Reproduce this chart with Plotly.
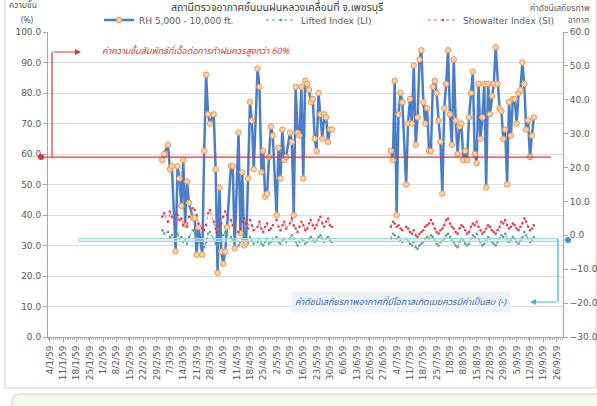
import plotly.graph_objects as go

# ---------------- data ----------------
tick_labels = ["4/1/59", "11/1/59", "18/1/59", "25/1/59", "1/2/59", "8/2/59", "15/2/59",
               "22/2/59", "29/2/59", "7/3/59", "14/3/59", "21/3/59", "28/3/59", "4/4/59",
               "11/4/59", "18/4/59", "25/4/59", "2/5/59", "9/5/59", "16/5/59", "23/5/59",
               "30/5/59", "6/6/59", "13/6/59", "20/6/59", "27/6/59", "4/7/59", "11/7/59",
               "18/7/59", "25/7/59", "1/8/59", "8/8/59", "15/8/59", "22/8/59", "29/8/59",
               "5/9/59", "12/9/59", "19/9/59", "26/9/59"]

dates_seg1 = ["03-03", "03-04", "03-06", "03-07", "03-08", "03-10", "03-11", "03-12", "03-13", "03-14",
              "03-15", "03-16", "03-17", "03-19", "03-20", "03-21", "03-22", "03-24", "03-25", "03-26",
              "03-27", "03-28", "03-30", "03-31", "04-01", "04-02", "04-03", "04-04", "04-05", "04-06",
              "04-08", "04-09", "04-10", "04-12", "04-13", "04-14", "04-15", "04-16", "04-17", "04-18",
              "04-19", "04-20", "04-22", "04-23", "04-24", "04-25", "04-26", "04-27", "04-28", "04-29",
              "04-30", "05-02", "05-03", "05-04", "05-05", "05-06", "05-07", "05-09", "05-10", "05-11",
              "05-12", "05-13", "05-14", "05-15", "05-16", "05-17", "05-18", "05-19", "05-20", "05-21",
              "05-22", "05-23", "05-24", "05-25", "05-26", "05-27", "05-28", "05-29", "05-30", "05-31"]
dates_gap = ["06-15"]
dates_seg2 = ["07-01", "07-02", "07-03", "07-04", "07-05", "07-06", "07-07", "07-09", "07-10", "07-11",
              "07-12", "07-13", "07-14", "07-15", "07-16", "07-17", "07-18", "07-19", "07-20", "07-21",
              "07-22", "07-23", "07-24", "07-25", "07-26", "07-27", "07-28", "07-29", "07-30", "07-31",
              "08-01", "08-02", "08-03", "08-04", "08-05", "08-06", "08-07", "08-08", "08-09", "08-10",
              "08-11", "08-12", "08-13", "08-14", "08-15", "08-16", "08-17", "08-18", "08-19", "08-20",
              "08-21", "08-22", "08-23", "08-24", "08-25", "08-26", "08-27", "08-28", "08-29", "08-30",
              "08-31", "09-01", "09-02", "09-03", "09-04", "09-05", "09-06", "09-07", "09-08", "09-09",
              "09-10", "09-11", "09-12", "09-13", "09-14"]

rh_seg1 = [58, 60, 63, 55, 56, 28, 56, 52, 43, 58,
           37, 51, 44, 39, 39, 27, 36, 27, 61, 86,
           73, 70, 73, 55, 21, 49, 28, 24, 28, 36,
           56, 56, 29, 67, 34, 54, 30, 31, 52, 77,
           71, 55, 88, 82, 54, 61, 46, 47, 59, 69,
           66, 40, 62, 52, 68, 58, 59, 67, 64, 40,
           82, 67, 66, 82, 52, 84, 83, 81, 77, 78,
           65, 61, 80, 73, 65, 73, 72, 64, 68, 68]
rh_seg2 = [61, 58, 84, 40, 73, 80, 77, 50, 70, 78,
           70, 89, 63, 72, 91, 94, 77, 70, 75, 61,
           61, 82, 84, 80, 71, 64, 47, 75, 83, 94,
           73, 63, 91, 71, 60, 69, 70, 58, 61, 58,
           72, 80, 87, 60, 57, 83, 65, 72, 83, 49,
           83, 73, 79, 83, 95, 83, 75, 74, 65, 68,
           50, 77, 66, 78, 78, 70, 80, 81, 90, 83,
           68, 71, 59, 66, 72]

si_seg1 = [5.5, 6.5, 4.0, 7.0, 5.5, 3.5, 6.0, 4.5, 5.0, 3.0,
           4.0, 2.5, 5.5, 8.0, 7.5, 6.0, 3.5, 2.0, 1.5, 3.0,
           6.5, 7.5, 4.0, 2.0, 1.0, 2.5, 3.5, 5.5, 7.0, 6.0,
           4.5, 3.0, 2.0, 1.0, 2.0, 4.0, 5.0, 3.5, 2.0, 4.5,
           3.0, 1.5, 2.5, 4.0, 2.0, 1.0, 2.5, 3.5, 1.5, 2.0,
           3.0, 4.5, 2.5, 1.5, 3.0, 4.0, 2.0, 3.5, 5.0, 3.0,
           2.0, 1.0, 2.5, 4.0, 3.0, 1.5, 2.0, 3.5, 4.5, 3.0,
           2.0, 3.0, 4.5, 5.5, 3.5, 2.5, 4.0, 5.0, 3.0, 2.5]
si_seg2 = [2.5, 4.0, 3.5, 2.5, 3.0, 2.0, 1.5, 2.5, 2.0, 1.0,
           0.5, 1.5, 0.0, -0.5, 0.5, 1.0, 1.5, 2.5, 3.0, 3.5,
           4.5, 3.5, 2.0, 1.0, 0.5, 1.5, 2.0, 3.0, 4.5, 5.0,
           3.5, 2.5, 2.0, 1.0, 0.5, 2.0, 3.0, 2.5, 1.5, 0.5,
           1.0, 2.5, 3.5, 3.0, 4.0, 2.5, 1.5, 0.5, 1.0, 2.0,
           3.0, 2.5, 1.5, 1.0, 0.5, 1.5, 2.5, 4.0, 3.5, 4.5,
           3.0, 2.0, 2.5, 3.5, 3.0, 2.0, 1.5, 2.5, 3.5, 5.0,
           4.0, 2.5, 1.5, 2.0, 3.0]

li_seg1 = [1.5, 0.5, 1.0, -0.5, 0.0, -1.5, 0.5, -1.0, -0.5, -2.0,
           -1.0, -2.5, -0.5, 1.5, 1.0, -0.5, -2.0, -3.0, -3.5, -2.0,
           0.5, 1.0, -1.0, -2.5, -3.0, -2.0, -1.5, 0.0, 1.0, 0.5,
           -0.5, -1.5, -2.5, -3.0, -2.0, -1.0, 0.0, -1.0, -2.0, -0.5,
           -1.5, -2.5, -2.0, -1.0, -2.5, -3.0, -2.0, -1.0, -2.5, -2.0,
           -1.0, -0.5, -2.0, -2.5, -1.5, -1.0, -2.0, -1.0, 0.0, -1.0,
           -2.0, -3.0, -2.0, -1.0, -1.5, -2.5, -2.0, -1.0, -0.5, -1.5,
           -2.0, -1.5, -0.5, 0.0, -1.0, -2.0, -1.0, -0.5, -1.5, -2.0]
li_seg2 = [-1.0, 0.5, 0.0, -1.0, -0.5, -1.5, -2.0, -1.0, -1.5, -2.5,
           -3.0, -2.0, -3.5, -4.0, -3.0, -2.5, -2.0, -1.0, -0.5, -1.0,
           0.0, -0.5, -1.5, -2.5, -3.0, -2.0, -1.5, -1.0, 0.0, 0.5,
           -0.5, -1.5, -2.0, -3.0, -3.5, -2.0, -1.0, -1.5, -2.5, -3.0,
           -2.5, -1.0, 0.0, -0.5, 0.5, -1.0, -2.0, -3.0, -2.5, -1.5,
           -0.5, -1.0, -2.0, -2.5, -3.0, -2.0, -1.0, 0.0, -0.5, 0.5,
           -1.0, -2.0, -1.5, -0.5, -1.0, -2.0, -2.5, -1.5, -0.5, 1.0,
           0.0, -1.0, -2.0, -1.5, -0.5]

YEAR = 2016
dates = ["%d-%s" % (YEAR, d) for d in dates_seg1 + dates_gap + dates_seg2]
rh = rh_seg1 + [None] + rh_seg2
si = si_seg1 + [None] + si_seg2
li = li_seg1 + [None] + li_seg2


def label_to_date(lbl):
    d, m, y = lbl.split("/")
    return "%d-%02d-%02d" % (int(y) + 2500 - 543, int(m), int(d))


tick_vals = [label_to_date(t) for t in tick_labels]

# ---------------- geometry helpers (decorations only) ----------------
W, H = 597, 406
ML, MR, MT, MB = 48, 34, 32, 69
PW, PH = W - ML - MR, H - MT - MB


def px(x):
    return (x - ML) / PW


def py(y):
    return (H - MB - y) / PH


THAI = "Tahoma, 'Noto Sans Thai', 'Noto Sans', 'DejaVu Sans', sans-serif"
TICKF = dict(family="Tahoma, 'DejaVu Sans', sans-serif", size=9, color="#595959")

fig = go.Figure()
fig.add_trace(go.Scatter(
    x=dates, y=rh, name="RH 5,000 - 10,000 ft.", mode="lines+markers",
    line=dict(color="#4a7ec8", width=2.5),
    marker=dict(symbol="circle", size=5.5, color="#fbd4ae", line=dict(color="#f0964a", width=1)),
    connectgaps=False, yaxis="y"))
fig.add_trace(go.Scatter(
    x=dates, y=li, name="Lifted Index (LI)", mode="lines+markers",
    line=dict(color="#5aa57e", width=1, dash="dot"),
    marker=dict(size=2.5, color="#5aa57e"), connectgaps=False, yaxis="y2"))
fig.add_trace(go.Scatter(
    x=dates, y=si, name="Showalter Index (SI)", mode="lines+markers",
    line=dict(color="#e0707c", width=1, dash="dot"),
    marker=dict(size=2.5, color="#d9404f"), connectgaps=False, yaxis="y2"))

shapes = []
# outer chart frame
shapes.append(dict(type="rect", xref="paper", yref="paper", x0=px(5), x1=px(596), y0=py(388), y1=py(-5),
                   line=dict(color="#d0d0d0", width=1), fillcolor="rgba(0,0,0,0)", layer="below"))
# green box below chart
r = 8
shapes.append(dict(type="path", xref="paper", yref="paper",
                   path="M %f,%f L %f,%f Q %f,%f %f,%f L %f,%f L %f,%f Z" % (
                       px(12), py(420), px(12), py(394 + r), px(12), py(394), px(12 + r), py(394),
                       px(600), py(394), px(600), py(420)),
                   line=dict(color="#c5e0a8", width=1), fillcolor="#f3faea", layer="below"))
# red RH 60% line
shapes.append(dict(type="line", xref="paper", yref="y", x0=px(41), x1=px(551), y0=59, y1=59,
                   line=dict(color="#d9343c", width=1.2)))
shapes.append(dict(type="circle", xref="paper", yref="paper", x0=px(38), x1=px(44),
                   y0=py(160), y1=py(154), line=dict(color="#e0303a", width=0), fillcolor="#e0303a"))
# red bracket
shapes.append(dict(type="line", xref="paper", yref="paper", x0=px(52), x1=px(52), y0=py(157), y1=py(52),
                   line=dict(color="#d9343c", width=1.2)))
# cyan band (stability index zero region)
shapes.append(dict(type="rect", xref="paper", yref="paper", x0=px(79), x1=px(558), y0=py(241.5), y1=py(238.5),
                   line=dict(color="#9ad7e0", width=1), fillcolor="rgba(200,236,241,0.5)"))
shapes.append(dict(type="line", xref="paper", yref="paper", x0=px(558), x1=px(558), y0=py(239), y1=py(302),
                   line=dict(color="#45b5c8", width=1.2)))
shapes.append(dict(type="circle", xref="paper", yref="paper", x0=px(565), x1=px(571),
                   y0=py(243), y1=py(237), line=dict(width=0), fillcolor="#2aa3cc"))

annotations = []
annotations.append(dict(xref="paper", yref="paper", x=px(81), y=py(52), ax=-29, ay=0,
                        text="", showarrow=True, arrowhead=2,
                        arrowsize=1, arrowwidth=1.2, arrowcolor="#d9343c"))
annotations.append(dict(xref="paper", yref="paper", x=px(100), y=py(51), xanchor="left", yanchor="middle",
                        text="<i>ค่าความชื้นสัมพัทธ์ที่เอื้อต่อการทำฝนควรสูงกว่า 60%</i>", showarrow=False,
                        font=dict(family=THAI, size=9, color="#e0303a")))
annotations.append(dict(xref="paper", yref="paper", x=px(530), y=py(302), ax=28, ay=0,
                        text="", showarrow=True, arrowhead=2,
                        arrowsize=1, arrowwidth=1.2, arrowcolor="#45b5c8"))
annotations.append(dict(xref="paper", yref="paper", x=px(401), y=py(302), xanchor="center", yanchor="middle",
                        text="<i>ค่าดัชนีเสถียรภาพอากาศที่มีโอกาสเกิดเมฆควรมีค่าเป็นลบ (-)</i>", showarrow=False,
                        bgcolor="#eef2f6", borderpad=3,
                        font=dict(family=THAI, size=9, color="#2e6fb8")))
# titles
annotations.append(dict(xref="paper", yref="paper", x=px(277), y=py(8), xanchor="center", yanchor="middle",
                        text="สถานีตรวจอากาศชั้นบนฝนหลวงเคลื่อนที่ จ.เพชรบุรี", showarrow=False,
                        font=dict(family=THAI, size=10.5, color="#404040")))
annotations.append(dict(xref="paper", yref="paper", x=px(23), y=py(6), xanchor="center", yanchor="middle",
                        text="ความชื้น", showarrow=False, font=dict(family=THAI, size=8.5, color="#595959")))
annotations.append(dict(xref="paper", yref="paper", x=px(27), y=py(20), xanchor="center", yanchor="middle",
                        text="(%)", showarrow=False, font=dict(family=THAI, size=8.5, color="#595959")))
annotations.append(dict(xref="paper", yref="paper", x=px(560), y=py(8), xanchor="center", yanchor="middle",
                        text="ค่าดัชนีเสถียรภาพ", showarrow=False, font=dict(family=THAI, size=8.5, color="#595959")))
annotations.append(dict(xref="paper", yref="paper", x=px(578), y=py(21), xanchor="center", yanchor="middle",
                        text="อากาศ", showarrow=False, font=dict(family=THAI, size=8, color="#595959")))

fig.update_layout(
    width=W, height=H, autosize=False,
    margin=dict(l=ML, r=MR, t=MT, b=MB, pad=0, autoexpand=False),
    paper_bgcolor="white", plot_bgcolor="white",
    showlegend=True, hovermode=False,
    legend=dict(orientation="h", x=px(99), y=py(20), xanchor="left", yanchor="middle",
                font=dict(family="Tahoma, 'DejaVu Sans', sans-serif", size=9, color="#595959"),
                bgcolor="rgba(0,0,0,0)", entrywidth=117, entrywidthmode="pixels",
                itemwidth=30, tracegroupgap=0),
    xaxis=dict(type="date", range=["2016-01-03", "2016-09-29 08:00"], automargin=False,
               tickmode="array", tickvals=tick_vals, ticktext=tick_labels, tickangle=-90,
               tickfont=TICKF, showgrid=False, zeroline=False,
               showline=True, linecolor="#a6a6a6", linewidth=1,
               ticks="outside", ticklen=4, tickcolor="#a6a6a6",
               minor=dict(tickmode="linear", tick0="2016-01-04", dtick=86400000,
                          ticks="outside", ticklen=2, tickcolor="#b8b8b8")),
    yaxis=dict(range=[0, 100], tickmode="linear", tick0=0, dtick=10, tickformat=".1f", automargin=False,
               tickfont=TICKF, showgrid=True, gridcolor="#dcdcdc", gridwidth=1, zeroline=False,
               showline=True, linecolor="#a6a6a6", ticks="outside", ticklen=4, tickcolor="#a6a6a6"),
    yaxis2=dict(range=[-30, 60], overlaying="y", side="right", tickmode="linear", tick0=0, dtick=10,
                tickformat=".1f", tickfont=TICKF, showgrid=False, zeroline=False, automargin=False,
                showline=True, linecolor="#a6a6a6", ticks="outside", ticklen=4, tickcolor="#a6a6a6"),
    shapes=shapes, annotations=annotations,
)

fig.write_html("out.html", config={"displayModeBar": False},
               post_script="document.body.style.margin='0px';document.body.style.overflow='hidden';")
